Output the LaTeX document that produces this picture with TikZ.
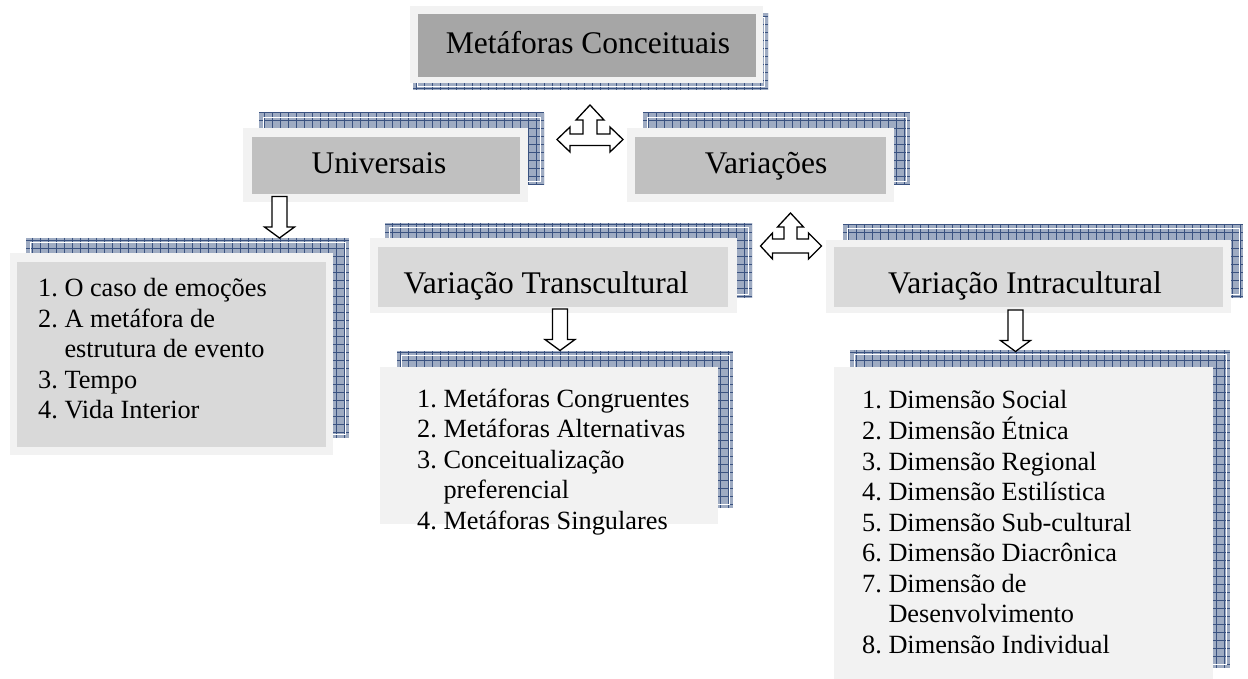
\documentclass[tikz,border=0pt]{standalone}
\usepackage{fontspec}
\setmainfont{Liberation Serif}

\definecolor{hatchbase}{RGB}{158,171,194}
\definecolor{hatchline}{RGB}{58,82,128}
\definecolor{framegray}{RGB}{242,242,242}
\definecolor{titlegray}{RGB}{166,166,166}
\definecolor{midgray}{RGB}{192,192,192}
\definecolor{softgray}{RGB}{217,217,217}

% gridded drop shadow behind a card: corners (x1,y1) (x2,y2)
\newcommand\hatchbox[4]{%
  \fill[hatchbase] (#1,#2) rectangle (#3,#4);
  \begin{scope}
    \clip (#1,#2) rectangle (#3,#4);
    \foreach \gx in {0,8,...,1248} \draw[hatchline, line width=0.7pt] (\gx,#2) -- (\gx,#4);
    \foreach \gy in {0,8,...,680} \draw[hatchline, line width=0.7pt] (#1,\gy) -- (#3,\gy);
  \end{scope}
  \draw[white, line width=0.7pt] (#1+4,#2+4) rectangle (#3-4,#4-4);
}

\tikzset{
  blockarrow/.style={draw=black, fill=white, line width=1.3pt, line join=miter},
  headtext/.style={font=\fontsize{31.5}{36}\selectfont, inner sep=0pt, anchor=base},
  listtext/.style={font=\fontsize{26.3}{30.5}\selectfont, inner sep=0pt, anchor=base west},
  downarrow/.pic={
    \draw[blockarrow] (-7.5,0) -- (7.5,0) -- (7.5,30.5) -- (15,30.5) -- (0,41.5)
      -- (-15,30.5) -- (-7.5,30.5) -- cycle;
  },
  threewaybig/.pic={
    \draw[blockarrow] (0,0) -- (14,15) -- (7,15) -- (7,29) -- (20,29) -- (20,22)
      -- (33,34.5) -- (20,47) -- (20,40.5) -- (-20,40.5) -- (-20,47) -- (-33,34.5)
      -- (-20,22) -- (-20,29) -- (-7,29) -- (-7,15) -- (-14,15) -- cycle;
  },
  threewaysmall/.pic={
    \draw[blockarrow] (0,0) -- (13,14) -- (6.5,14) -- (6.5,26) -- (18,26) -- (18,20)
      -- (31,33) -- (18,46) -- (18,40) -- (-18,40) -- (-18,46) -- (-30,33)
      -- (-18,20) -- (-18,26) -- (-6.5,26) -- (-6.5,14) -- (-13,14) -- cycle;
  }
}

\begin{document}
\begin{tikzpicture}[x=1pt,y=-1pt]
\useasboundingbox (0,0) rectangle (1248,679);
\fill[white] (0,0) rectangle (1248,679);

% ---- top card
\hatchbox{413}{13}{768}{90}
\fill[framegray] (410,6) rectangle (763,83);
\fill[titlegray] (418,14) rectangle (756,77);
\node[headtext] (title) at (588,54) {Metáforas Conceituais};

% ---- second level
\hatchbox{259}{113}{544}{185}
\fill[framegray] (243,128) rectangle (528,202);
\fill[midgray] (252,137) rectangle (520,194);
\node[headtext] (uni) at (379,174) {Universais};

\hatchbox{643}{113}{910}{185}
\fill[framegray] (627,128) rectangle (894,202);
\fill[midgray] (635,137) rectangle (886,194);
\node[headtext] (var) at (766,174) {Variações};

% ---- third level
\hatchbox{385}{223}{752}{298}
\fill[framegray] (370,238) rectangle (737,313);
\fill[softgray] (378,247) rectangle (728,307);
\node[headtext] (trans) at (546,293) {Variação Transcultural};

\hatchbox{843}{224}{1243}{298}
\fill[framegray] (826,240) rectangle (1231,313);
\fill[softgray] (834,247) rectangle (1223,307);
\node[headtext] (intra) at (1025,294) {Variação Intracultural};

% ---- lists
\hatchbox{26}{238}{349}{438}
\fill[framegray] (10,253) rectangle (333,455);
\fill[softgray] (17,262) rectangle (326,447);
\node[listtext] (unilist) at (38,297) {\begin{tabular}[t]{@{}l@{\ }l@{}}
1. & O caso de emoções\\
2. & A metáfora de\\
   & estrutura de evento\\
3. & Tempo\\
4. & Vida Interior
\end{tabular}};

\hatchbox{397}{351}{733}{508}
\fill[framegray] (380,367) rectangle (718,524);
\node[listtext] (translist) at (417,407) {\begin{tabular}[t]{@{}l@{\ }l@{}}
1. & Metáforas Congruentes\\
2. & Metáforas Alternativas\\
3. & Conceitualização\\
   & preferencial\\
4. & Metáforas Singulares
\end{tabular}};

\hatchbox{850}{350}{1230}{668}
\fill[framegray] (834,367) rectangle (1213,682);
\node[listtext] (intralist) at (862,408) {\begin{tabular}[t]{@{}l@{\ }l@{}}
1. & Dimensão Social\\
2. & Dimensão Étnica\\
3. & Dimensão Regional\\
4. & Dimensão Estilística\\
5. & Dimensão Sub-cultural\\
6. & Dimensão Diacrônica\\
7. & Dimensão de\\
   & Desenvolvimento\\
8. & Dimensão Individual
\end{tabular}};

% ---- block arrows
\coordinate (forkA) at (590,105);
\coordinate (forkB) at (790.5,213);
\coordinate (uniDown) at (279.5,196.5);
\coordinate (transDown) at (560,309);
\coordinate (intraDown) at (1015.5,310);

\pic at (forkA) {threewaybig};
\pic at (forkB) {threewaysmall};
\pic at (uniDown) {downarrow};
\pic at (transDown) {downarrow};
\pic at (intraDown) {downarrow};
\end{tikzpicture}
\end{document}
